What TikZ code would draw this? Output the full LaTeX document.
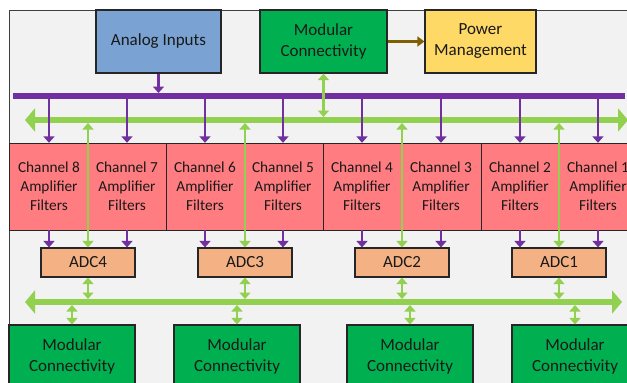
\documentclass[tikz,border=0pt]{standalone}
\usepackage{fontspec}
\setmainfont{Carlito}
\usetikzlibrary{arrows.meta}
\definecolor{framefill}{HTML}{F2F2F2}
\definecolor{framedraw}{HTML}{404040}
\definecolor{boxblue}{HTML}{7AA2D2}
\definecolor{boxgreen}{HTML}{00B050}
\definecolor{boxyellow}{HTML}{FFD966}
\definecolor{boxred}{HTML}{FF7C80}
\definecolor{boxorange}{HTML}{F4B183}
\definecolor{buspurple}{HTML}{7030A0}
\definecolor{buslime}{HTML}{92D050}
\definecolor{arrbrown}{HTML}{7F6000}
\begin{document}
\begin{tikzpicture}[x=1pt,y=-1pt,
  box/.style={draw=black!85, line width=1.2pt, inner sep=0pt, align=center, text=black!90,
    font=\fontsize{17}{21}\selectfont},
  topbox/.style={box, minimum width=#1, minimum height=63pt},
  adcbox/.style={box, fill=boxorange, minimum width=94pt, minimum height=29pt},
  modbox/.style={box, fill=boxgreen, minimum width=126pt, minimum height=63pt},
  grpbox/.style={draw=black!85, line width=1.2pt, fill=boxred, inner sep=0pt, minimum width=#1, minimum height=87pt},
  chan/.style={inner sep=0pt, minimum width=78pt, minimum height=87pt, align=center, text=black!90,
    font=\fontsize{15.3}{19}\selectfont},
  pbus/.style={buspurple, line width=6pt},
  gbus/.style={buslime, line width=6pt, {Triangle[width=23pt,length=10pt]}-{Triangle[width=23pt,length=10pt]}},
  parr/.style={buspurple, line width=2.5pt, -{Triangle[width=11pt,length=6.5pt]}},
  garr/.style={buslime, line width=2.5pt, {Triangle[width=11pt,length=6.5pt]}-{Triangle[width=11pt,length=6.5pt]}},
  barr/.style={arrbrown, line width=2.5pt, -{Triangle[width=10pt,length=7pt]}}
]
\useasboundingbox (0,0) rectangle (627,383);
\clip (0,0) rectangle (627,383);
% frame
\node[draw=framedraw, fill=framefill, line width=1pt, inner sep=0pt, minimum width=640pt, minimum height=400pt, anchor=north west] (frame) at (9,10) {};
% top boxes
\node[topbox=125pt, fill=boxblue] (ai) at (158.5,41.5) {Analog Inputs};
\node[topbox=127pt, fill=boxgreen] (mtop) at (323.5,41.5) {Modular\\Connectivity};
\node[topbox=111pt, fill=boxyellow] (pm) at (480.5,41.5) {Power\\Management};
\draw[barr] (mtop.east) -- (pm.west);
% buses
\coordinate (pL) at (13,96);
\coordinate (pR) at (625,96);
\coordinate (pTop) at (0,93);
\coordinate (gL) at (25,120);
\coordinate (gR) at (628,120);
\coordinate (gTop) at (0,117);
\coordinate (gLow) at (0,123);
\coordinate (bL) at (25,302);
\coordinate (bR) at (622,302);
\coordinate (bTop) at (0,299);
\coordinate (bLow) at (0,305);
\draw[pbus] (pL) -- (pR);
\draw[gbus] (gL) -- (gR);
\draw[parr] (ai.south) -- (ai.south |- pTop);
\draw[garr] (mtop.south) -- (mtop.south |- gTop);
% channel groups
\node[grpbox=157pt, anchor=north west] (g1) at (9,143) {};
\node[grpbox=157pt, anchor=north west] (g2) at (166,143) {};
\node[grpbox=158pt, anchor=north west] (g3) at (323,143) {};
\node[grpbox=160pt, anchor=north west] (g4) at (481,143) {};
\node[chan] (c8) at (49,186.5) {Channel 8\\Amplifier\\Filters};
\node[chan] (c7) at (127,186.5) {Channel 7\\Amplifier\\Filters};
\node[chan] (c6) at (205,186.5) {Channel 6\\Amplifier\\Filters};
\node[chan] (c5) at (283,186.5) {Channel 5\\Amplifier\\Filters};
\node[chan] (c4) at (362,186.5) {Channel 4\\Amplifier\\Filters};
\node[chan] (c3) at (441,186.5) {Channel 3\\Amplifier\\Filters};
\node[chan] (c2) at (520,186.5) {Channel 2\\Amplifier\\Filters};
\node[chan] (c1) at (598,186.5) {Channel 1\\Amplifier\\Filters};
% ADCs
\node[adcbox] (adc4) at (88,262.5) {ADC4};
\node[adcbox] (adc3) at (245,262.5) {ADC3};
\node[adcbox] (adc2) at (402,262.5) {ADC2};
\node[adcbox] (adc1) at (559,262.5) {ADC1};
% purple arrows bus -> channels -> ADC
\foreach \c/\a in {c8/adc4,c7/adc4,c6/adc3,c5/adc3,c4/adc2,c3/adc2,c2/adc1,c1/adc1}{
  \draw[parr] (\c.north |- pL) -- (\c.north);
  \draw[parr] (\c.south) -- (\c.south |- \a.north);
}
% green verticals ADC <-> top bus
\foreach \a in {adc4,adc3,adc2,adc1}{
  \draw[garr] (\a.north |- gLow) -- (\a.north);
}
% bottom bus
\draw[gbus] (bL) -- (bR);
\foreach \a in {adc4,adc3,adc2,adc1}{
  \draw[garr] (\a.south) -- (\a.south |- bTop);
}
% bottom modular boxes
\node[modbox] (m1) at (72,356.5) {Modular\\Connectivity};
\node[modbox] (m2) at (237,356.5) {Modular\\Connectivity};
\node[modbox] (m3) at (410,356.5) {Modular\\Connectivity};
\node[modbox] (m4) at (575,356.5) {Modular\\Connectivity};
\foreach \m in {m1,m2,m3,m4}{
  \draw[garr] (\m.north |- bLow) -- (\m.north);
}
\end{tikzpicture}
\end{document}
